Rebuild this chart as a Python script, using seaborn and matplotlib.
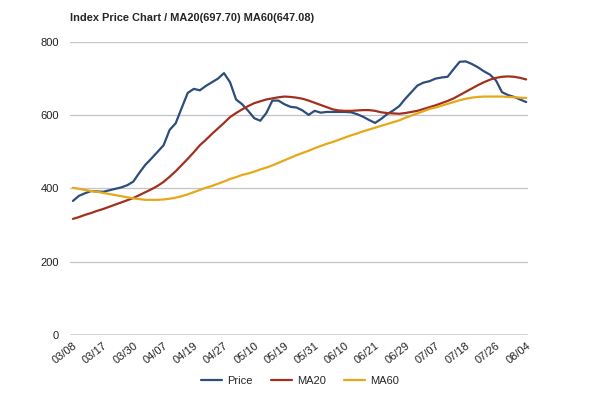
import matplotlib
matplotlib.use("Agg")
import matplotlib.pyplot as plt
import numpy as np
import pandas as pd
import seaborn as sns

dates = ['03/08', '03/17', '03/30', '04/07', '04/19', '04/27', '05/10', '05/19',
         '05/31', '06/10', '06/21', '06/29', '07/07', '07/18', '07/26', '08/04']

price = [366, 380, 387, 393, 392, 391, 395, 399, 403, 409,
         419, 443, 465, 482, 500, 518, 560, 578, 620, 661,
         672, 668, 680, 690, 700, 715, 690, 643, 630, 612,
         592, 585, 606, 640, 640, 630, 623, 621, 613, 601,
         612, 607, 609, 609, 609, 609, 608, 603, 596, 587,
         579, 590, 603, 613, 625, 645, 663, 681, 689, 693,
         700, 703, 705, 726, 746, 747, 740, 731, 720, 711,
         695, 663, 655, 650, 643, 636]

ma20 = [317, 322, 328, 333, 339, 344, 350, 356, 362, 368,
        374, 382, 390, 398, 407, 418, 432, 447, 464, 481,
        499, 518, 533, 549, 564, 579, 595, 606, 616, 625,
        633, 638, 643, 646, 649, 651, 650, 648, 645, 640,
        634, 628, 622, 616, 613, 612, 612, 613, 614, 614,
        612, 608, 606, 605, 604, 606, 609, 612, 617, 622,
        627, 633, 639, 646, 655, 664, 673, 682, 690, 697,
        702, 705, 706, 705, 702, 697.7]

ma60 = [402, 399, 396, 393, 391, 388, 385, 382, 379, 376,
        373, 371, 369, 369, 369, 370, 372, 375, 379, 384,
        390, 396, 402, 407, 413, 419, 426, 431, 437, 441,
        446, 452, 457, 463, 470, 477, 484, 491, 497, 503,
        510, 516, 522, 527, 533, 539, 545, 550, 556, 561,
        566, 571, 576, 581, 586, 593, 599, 605, 611, 617,
        621, 626, 631, 636, 641, 645, 648, 650, 651, 651,
        651, 651, 650, 649, 648, 647.08]

n = len(price)
df = pd.DataFrame({
    "day": list(range(n)) * 3,
    "value": price + ma20 + ma60,
    "series": ["Price"] * n + ["MA20"] * n + ["MA60"] * n,
})
colors = {"Price": "#2c4d7d", "MA20": "#a3301d", "MA60": "#e5a819"}

sns.set_style("white")
plt.rcParams['font.family'] = ['Liberation Sans', 'DejaVu Sans']

fig = plt.figure(figsize=(6, 3.96), dpi=100)
ax = fig.add_axes([0.117, 0.154, 0.763, 0.740])
sns.lineplot(data=df, x="day", y="value", hue="series", palette=colors,
             linewidth=1.6, ax=ax, legend=False)

ax.set_ylim(0, 800)
ax.set_yticks([0, 200, 400, 600, 800])
ax.set_xlim(-0.45, n - 1 + 0.3)
ax.set_xticks(np.linspace(0, n - 1, len(dates)))
ax.set_xticklabels(dates, rotation=38, ha="right", rotation_mode="anchor")
ax.tick_params(axis="both", length=0, labelsize=8, colors="#222222")
ax.tick_params(axis="y", pad=8)
ax.tick_params(axis="x", pad=4)
ax.grid(axis="y", color="#c4c4c4", linewidth=0.9)
ax.set_axisbelow(True)
ax.axhline(0, color="#444444", linewidth=1.0)
for s in ax.spines.values():
    s.set_visible(False)
ax.set_xlabel("")
ax.set_ylabel("")

fig.text(0.117, 0.955, "Index Price Chart / MA20(697.70) MA60(647.08)",
         fontsize=7.9, fontweight="bold", ha="left", va="center")

handles = [plt.Line2D([], [], color=colors[k], linewidth=1.6) for k in ["Price", "MA20", "MA60"]]
fig.legend(handles, ["Price", "MA20", "MA60"], loc="center", bbox_to_anchor=(0.5, 0.038),
           ncol=3, frameon=False, fontsize=8, handlelength=1.9, handletextpad=0.5,
           columnspacing=1.6)

fig.savefig("out.png", dpi=100)
